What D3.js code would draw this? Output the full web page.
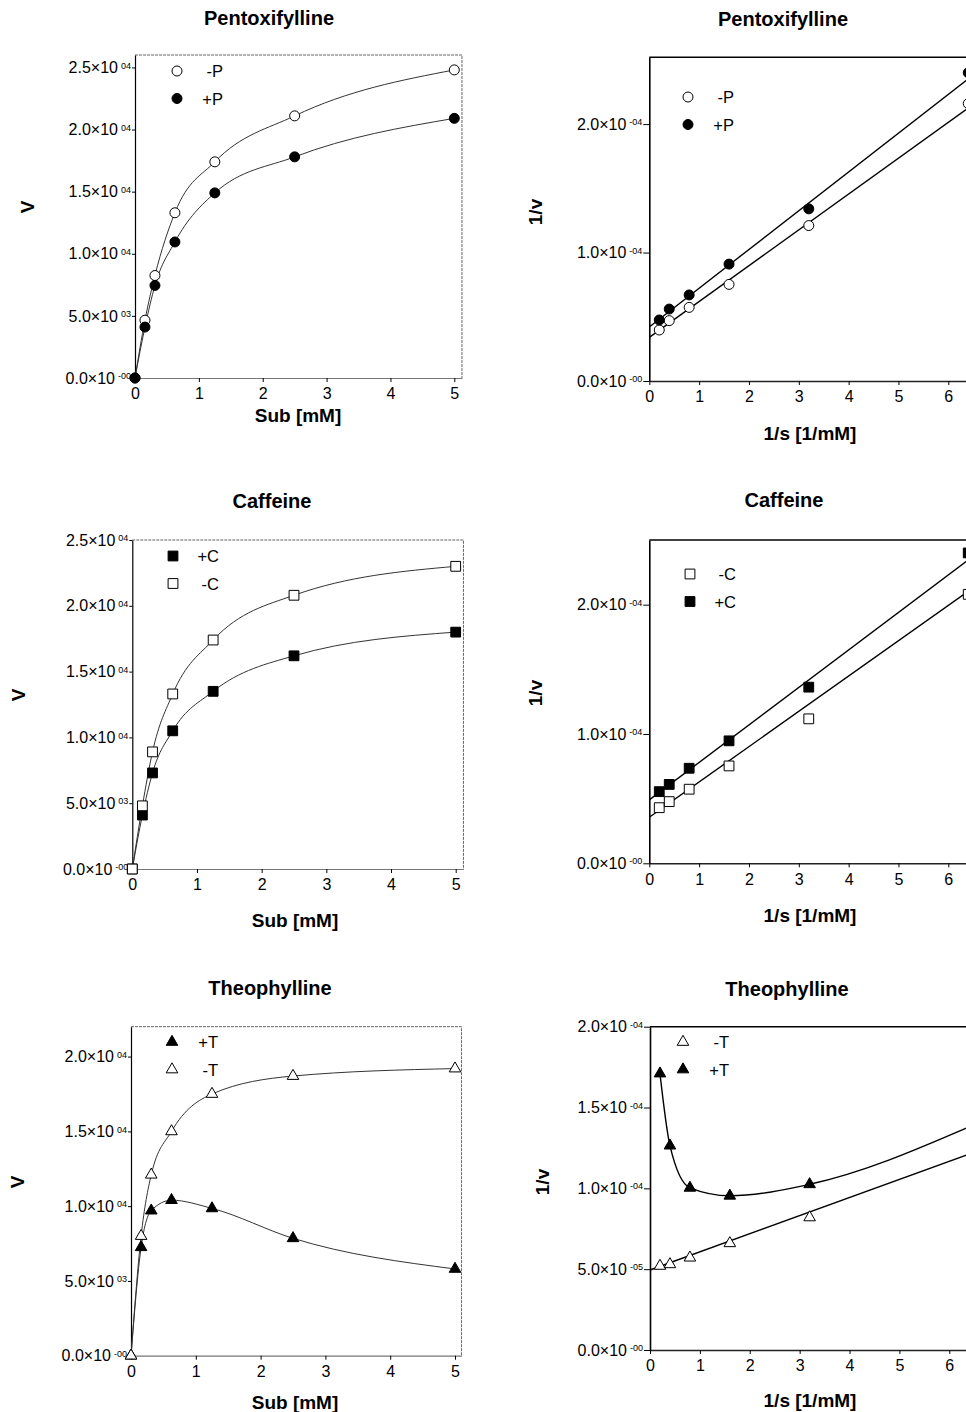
<!DOCTYPE html>
<html>
<head>
<meta charset="utf-8">
<script src="https://cdn.jsdelivr.net/npm/d3@7"></script>
<style>
  body { margin: 0; background: #fff; }
  svg { display: block; font-family: "Liberation Sans", Arial, sans-serif; }
</style>
</head>
<body>
<div id="chart"></div>
<script>
// --------------- Data --------------- //

// substrate concentrations (mM) and their reciprocals (1/mM)
const subConc = [0, 0.156, 0.3125, 0.625, 1.25, 2.5, 5];
const invSub = [0.2, 0.4, 0.8, 1.6, 3.2, 6.4];

// Michaelis-Menten plots, v
const pentoxMinusV = [0, 4650, 8250, 13300, 17400, 21100, 24800];
const pentoxPlusV = [0, 4100, 7450, 10950, 14900, 17800, 20900];
const caffeineMinusV = [0, 4800, 8900, 13300, 17400, 20800, 23000];
const caffeinePlusV = [0, 4100, 7300, 10500, 13500, 16200, 18000];
const theoMinusV = [0, 8000, 12100, 15000, 17500, 18700, 19200];
const theoPlusV = [0, 7250, 9700, 10400, 9850, 7850, 5800];

// Lineweaver-Burk plots, 1/v
const pentoxMinusInv = [0.397e-4, 0.47e-4, 0.573e-4, 0.752e-4, 1.21e-4, 2.16e-4];
const pentoxPlusInv = [0.475e-4, 0.56e-4, 0.67e-4, 0.91e-4, 1.34e-4, 2.40e-4];
const caffeineMinusInv = [0.43e-4, 0.477e-4, 0.573e-4, 0.753e-4, 1.117e-4, 2.08e-4];
const caffeinePlusInv = [0.554e-4, 0.61e-4, 0.735e-4, 0.947e-4, 1.362e-4, 2.40e-4];
const theoMinusInv = [0.52e-4, 0.53e-4, 0.571e-4, 0.66e-4, 0.82e-4, 1.25e-4];
const theoPlusInv = [1.71e-4, 1.264e-4, 1.003e-4, 0.954e-4, 1.025e-4, 1.38e-4];

// linear fits [intercept, slope]
const pentoxMinusFit = [0.34e-4, 0.279e-4];
const pentoxPlusFit = [0.42e-4, 0.302e-4];
const caffeineMinusFit = [0.356e-4, 0.273e-4];
const caffeinePlusFit = [0.49e-4, 0.290e-4];
const theoMinusFit = [0.495e-4, 0.112e-4];

// tick values
const mmTicksX = [0, 1, 2, 3, 4, 5];
const lbTicksX = [0, 1, 2, 3, 4, 5, 6];
const vTicks25 = [0, 5e3, 1e4, 1.5e4, 2e4, 2.5e4];
const vTicks20 = [0, 5e3, 1e4, 1.5e4, 2e4];
const invTicks = [0, 1e-4, 2e-4];
const invTicksTheo = [0, 5e-5, 1e-4, 1.5e-4, 2e-4];


// --------------- Basic Setup --------------- //

const width = 966,
    height = 1412;

const svg = d3.select("#chart")
    .append("svg")
    .attr("width", width)
    .attr("height", height);

const circleMark = (g, fill) => g.append("circle").attr("r", 5).attr("fill", fill).attr("stroke", "#000").attr("stroke-width", 1);
const squareMark = (g, fill) => g.append("path").attr("d", d3.symbol(d3.symbolSquare, 96)()).attr("fill", fill).attr("stroke", "#000").attr("stroke-width", 1);
const triMark = (g, fill) => g.append("path").attr("d", d3.symbol(d3.symbolTriangle, 58)()).attr("fill", fill).attr("stroke", "#000").attr("stroke-width", 1);

// scientific label like 2.5x10^04
function sci(d) {
    if (d === 0) return ["0.0×10", "-00"];
    const e = Math.floor(Math.log10(d) + 1e-9);
    const m = d / Math.pow(10, e);
    return [m.toFixed(1) + "×10", (e < 0 ? "-" : "") + String(Math.abs(e)).padStart(2, "0")];
}

// panel layout
const panels = [
    {title: "Pentoxifylline", left: 135, top: 55, bottom: 378, x0: 135, x1: 454.3, xMax: 5.12, yMax: 2.6e4,
     xTicks: mmTicksX, yTicks: vTicks25, kind: "mm", xLabel: "Sub [mM]", yLabel: "V",
     titlePos: [269, 18], xLabelPos: [298, 415], yLabelPos: [27, 207], legendPos: [177, 71],
     series: [
        {name: "-P", xs: subConc, ys: pentoxMinusV, mark: circleMark, fill: "#fff"},
        {name: "+P", xs: subConc, ys: pentoxPlusV, mark: circleMark, fill: "#000"}]},
    {title: "Pentoxifylline", left: 649.3, top: 57.3, bottom: 381, x0: 649.3, x1: 948.3, xMax: 6.5, yMax: 2.52e-4,
     xTicks: lbTicksX, yTicks: invTicks, kind: "lb", xLabel: "1/s [1/mM]", yLabel: "1/v",
     titlePos: [783, 19], xLabelPos: [810, 433], yLabelPos: [535, 212], legendPos: [688, 97],
     series: [
        {name: "-P", xs: invSub, ys: pentoxMinusInv, fit: pentoxMinusFit, mark: circleMark, fill: "#fff"},
        {name: "+P", xs: invSub, ys: pentoxPlusInv, fit: pentoxPlusFit, mark: circleMark, fill: "#000"}]},
    {title: "Caffeine", left: 132.3, top: 540, bottom: 869, x0: 132.3, x1: 455.7, xMax: 5.12, yMax: 2.5e4,
     xTicks: mmTicksX, yTicks: vTicks25, kind: "mm", xLabel: "Sub [mM]", yLabel: "V",
     titlePos: [272, 501], xLabelPos: [295, 920], yLabelPos: [18, 695], legendPos: [173, 556],
     series: [
        {name: "+C", xs: subConc, ys: caffeinePlusV, mark: squareMark, fill: "#000"},
        {name: "-C", xs: subConc, ys: caffeineMinusV, mark: squareMark, fill: "#fff"}]},
    {title: "Caffeine", left: 649.3, top: 540, bottom: 863.3, x0: 649.3, x1: 948.3, xMax: 6.5, yMax: 2.5e-4,
     xTicks: lbTicksX, yTicks: invTicks, kind: "lb", xLabel: "1/s [1/mM]", yLabel: "1/v",
     titlePos: [784, 500], xLabelPos: [810, 915], yLabelPos: [535, 693], legendPos: [690, 574],
     series: [
        {name: "-C", xs: invSub, ys: caffeineMinusInv, fit: caffeineMinusFit, mark: squareMark, fill: "#fff"},
        {name: "+C", xs: invSub, ys: caffeinePlusInv, fit: caffeinePlusFit, mark: squareMark, fill: "#000"}]},
    {title: "Theophylline", left: 131, top: 1026.7, bottom: 1355.7, x0: 131, x1: 455, xMax: 5.1, yMax: 2.2e4,
     xTicks: mmTicksX, yTicks: vTicks20, kind: "mm", xLabel: "Sub [mM]", yLabel: "V",
     titlePos: [270, 988], xLabelPos: [295, 1402], yLabelPos: [17, 1182], legendPos: [172, 1042],
     series: [
        {name: "+T", xs: subConc, ys: theoPlusV, mark: triMark, fill: "#000"},
        {name: "-T", xs: subConc, ys: theoMinusV, mark: triMark, fill: "#fff"}]},
    {title: "Theophylline", left: 650, top: 1026.7, bottom: 1350, x0: 650, x1: 949.3, xMax: 6.36, markMax: 6.2, yMax: 2e-4,
     xTicks: lbTicksX, yTicks: invTicksTheo, kind: "lb", xLabel: "1/s [1/mM]", yLabel: "1/v",
     titlePos: [787, 989], xLabelPos: [810, 1400], yLabelPos: [542, 1182], legendPos: [683, 1042],
     series: [
        {name: "-T", xs: invSub, ys: theoMinusInv, fit: theoMinusFit, mark: triMark, fill: "#fff"},
        {name: "+T", xs: invSub, ys: theoPlusInv, mark: triMark, fill: "#000"}]}
];


// --------------- Build the Panels --------------- //

panels.forEach((p, i) => {
    // last labelled tick sits at x1; extend to xMax
    const lastTick = p.xTicks[p.xTicks.length - 1];
    const right = p.x0 + (p.x1 - p.x0) * p.xMax / lastTick;
    const x = d3.scaleLinear().domain([0, p.xMax]).range([p.x0, right]);
    const y = d3.scaleLinear().domain([0, p.yMax]).range([p.bottom, p.top]);
    const mm = p.kind === "mm";
    const g = svg.append("g");

    // clips (lines, markers)
    const markRight = x(p.markMax || p.xMax);
    svg.append("clipPath").attr("id", "clip" + i)
        .append("rect").attr("x", p.left - 8).attr("y", p.top - 8)
        .attr("width", right - p.left + 8).attr("height", p.bottom - p.top + 16);
    svg.append("clipPath").attr("id", "mclip" + i)
        .append("rect").attr("x", p.left - 8).attr("y", p.top - 8)
        .attr("width", markRight - p.left + 8).attr("height", p.bottom - p.top + 16);

    // frame top/right
    if (mm) {
        g.append("path")
            .attr("d", `M${p.left},${p.top}H${right}V${p.bottom}`)
            .attr("fill", "none").attr("stroke", "#555").attr("stroke-width", 0.9)
            .attr("stroke-dasharray", "3,1");
    } else {
        g.append("line")
            .attr("x1", p.left).attr("x2", right).attr("y1", p.top).attr("y2", p.top)
            .attr("stroke", "#000").attr("stroke-width", 1.6);
    }

    // axes
    const tickLen = mm ? 3 : 6;
    const xAxis = g.append("g")
        .attr("transform", `translate(0,${p.bottom})`)
        .call(d3.axisBottom(x).tickValues(p.xTicks).tickSize(4).tickSizeOuter(0).tickPadding(6).tickFormat(d3.format("d")));
    xAxis.select(".domain").attr("stroke", mm ? "#777" : "#222").attr("stroke-width", mm ? 1.2 : 1.4);
    xAxis.selectAll("text").attr("font-size", 16).attr("fill", "#000");

    const yAxis = g.append("g")
        .attr("transform", `translate(${p.left},0)`)
        .call(d3.axisLeft(y).tickValues(p.yTicks).tickSize(tickLen).tickSizeOuter(0).tickPadding(1));
    yAxis.select(".domain").attr("stroke", "#000").attr("stroke-width", mm ? 1.2 : 1.6);
    yAxis.selectAll(".tick text").each(function (d) {
        const [m, e] = sci(d);
        const t = d3.select(this).text(null)
            .attr("font-size", 16).attr("fill", "#000");
        t.append("tspan").text(m);
        t.append("tspan").attr("dx", 3).attr("dy", "-0.5em").attr("font-size", 9).text(e);
    });

    // curves / fit lines
    const plot = g.append("g").attr("clip-path", `url(#clip${i})`);
    p.series.forEach(s => {
        const pts = s.xs.map((v, k) => [v, s.ys[k]]);
        let linePts = pts;
        if (s.fit) {
            linePts = [0, p.xMax].map(v => [v, s.fit[0] + s.fit[1] * v]);
        }
        plot.append("path")
            .datum(linePts)
            .attr("fill", "none")
            .attr("stroke", mm ? "#333" : "#000")
            .attr("stroke-width", mm ? 1 : 1.4)
            .attr("d", d3.line().x(d => x(d[0])).y(d => y(d[1])).curve(s.fit ? d3.curveLinear : d3.curveMonotoneX));
    });

    // markers
    const marks = g.append("g").attr("clip-path", `url(#mclip${i})`);
    p.series.forEach(s => {
        s.xs.forEach((v, k) => {
            const mg = marks.append("g").attr("transform", `translate(${x(v)},${y(s.ys[k])})`);
            s.mark(mg, s.fill);
        });
    });

    // legend
    p.series.forEach((s, k) => {
        const ly = p.legendPos[1] + k * 27.5;
        const mg = g.append("g").attr("transform", `translate(${p.legendPos[0]},${ly})`);
        s.mark(mg, s.fill);
        g.append("text")
            .attr("x", p.legendPos[0] + 46).attr("y", ly + 6)
            .attr("text-anchor", "end").attr("font-size", 16.5)
            .text(s.name);
    });

    // titles
    g.append("text")
        .attr("x", p.titlePos[0]).attr("y", p.titlePos[1] + 7)
        .attr("text-anchor", "middle").attr("font-size", 20).attr("font-weight", "bold")
        .text(p.title);
    g.append("text")
        .attr("x", p.xLabelPos[0]).attr("y", p.xLabelPos[1] + 7)
        .attr("text-anchor", "middle").attr("font-size", 19).attr("font-weight", "bold")
        .text(p.xLabel);
    g.append("text")
        .attr("transform", `translate(${p.yLabelPos[0] + 7},${p.yLabelPos[1]}) rotate(-90)`)
        .attr("text-anchor", "middle").attr("font-size", 19).attr("font-weight", "bold")
        .text(p.yLabel);
});
</script>
</body>
</html>
